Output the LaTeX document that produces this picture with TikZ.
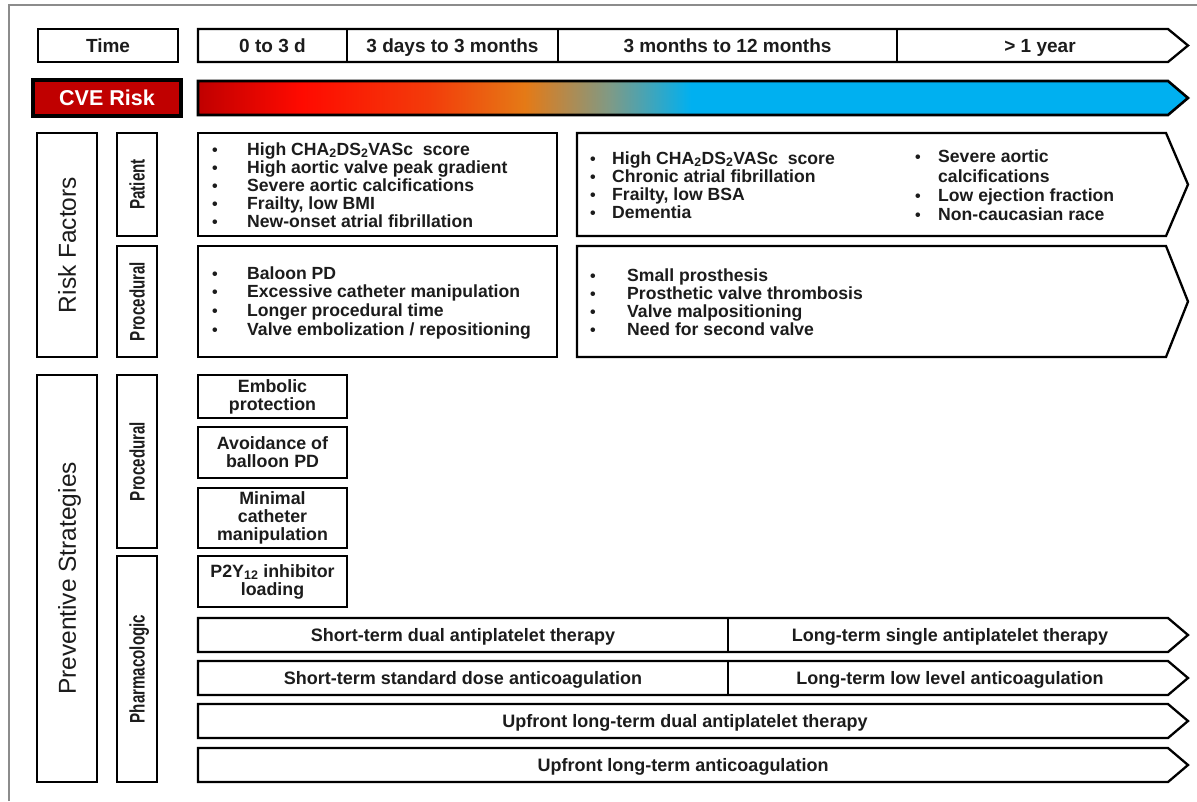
\documentclass[tikz,border=0pt]{standalone}
\usepackage{fontspec}
\setmainfont{Liberation Sans}
\usetikzlibrary{calc}

\definecolor{cvedark}{HTML}{C00000}
\definecolor{cvered}{HTML}{FF0A00}
\definecolor{cveorg1}{HTML}{F33C0A}
\definecolor{cveorange}{HTML}{E57A16}
\definecolor{cvegray}{HTML}{7F9A86}
\definecolor{cveblue}{HTML}{00B0F0}
\definecolor{framegray}{HTML}{8C8C8C}
\definecolor{ink}{HTML}{1C1C1C}

% risk gradient: dark red -> red -> orange -> blue (inner 25bp..75bp spans the bar)
\pgfdeclarehorizontalshading{cverisk}{100bp}{color(0bp)=(cvedark); color(25bp)=(cvedark); color(30.2bp)=(cvered); color(36.7bp)=(cveorg1); color(41.5bp)=(cveorange); color(45.8bp)=(cvegray); color(49.9bp)=(cveblue); color(100bp)=(cveblue)}

\newcommand\bul{{\fontsize{16}{16}\selectfont\textbullet}}

\begin{document}
\begin{tikzpicture}[x=1pt,y=-1pt,
  boxline/.style={draw=black, line width=2.3pt, line join=miter},
  framebox/.style={boxline, fill=white, inner sep=0pt},
  hdr/.style={font=\fontsize{19}{19}\selectfont\bfseries, text=ink, text height=13.6pt, text depth=0pt, inner sep=0pt},
  barlbl/.style={font=\fontsize{18}{18}\selectfont\bfseries, text=ink, text height=12.9pt, text depth=0pt, inner sep=0pt},
  listline/.style={font=\fontsize{17.6}{17.6}\selectfont\bfseries, text=ink, inner sep=0pt, anchor=base west},
  sidebig/.style={font=\fontsize{24.5}{24.5}\selectfont, rotate=90, text=ink, text height=17.5pt, text depth=0pt, inner sep=0pt},
  sidesmall/.style={font=\fontsize{21}{21}\selectfont\bfseries, rotate=90, text=ink, text height=15pt, text depth=0pt, inner sep=0pt},
  stratbox/.style={framebox, font=\fontsize{17.8}{18}\selectfont\bfseries, text=ink, align=center, minimum width=149pt},
]
\useasboundingbox (0,0) rectangle (1197,801);

% outer frame (top and left edges)
\draw[framegray, line width=2pt] (9,801) -- (9,5) -- (1197,5);

% ---------- time axis ----------
\node[framebox, hdr, minimum width=140pt, minimum height=33pt] (time) at (108,45.5) {Time};
\draw[boxline, fill=white] (198,29) -- (1168,29) -- (1188,45.5) -- (1168,62) -- (198,62) -- cycle;
\draw[boxline] (347,29) -- (347,62);
\draw[boxline] (558,29) -- (558,62);
\draw[boxline] (897,29) -- (897,62);
\node[hdr] (t1) at (272.5,45.5) {0 to 3 d};
\node[hdr] (t2) at (452.5,45.5) {3 days to 3 months};
\node[hdr] (t3) at (727.5,45.5) {3 months to 12 months};
\node[hdr] (t4) at (1040,45.5) {> 1 year};

% ---------- CVE risk ----------
\node[framebox, fill=cvedark, line width=3.2pt, minimum width=148pt, minimum height=36pt,
      font=\fontsize{21.5}{21.5}\selectfont\bfseries, text=white, text height=15.4pt, text depth=0pt] (cve) at (107,98) {CVE Risk};
\shadedraw[shading=cverisk, draw=black, line width=2.6pt] (198,81) -- (1168,81) -- (1188,98) -- (1168,115) -- (198,115) -- cycle;

% ---------- risk factors ----------
\node[framebox, minimum width=60pt, minimum height=224pt] (rf) at (67,245) {};
\node[sidebig] (rflbl) at (rf.center) {Risk Factors};
\node[framebox, minimum width=40pt, minimum height=103pt] (patbox) at (137,184.5) {};
\node[sidesmall] (patlbl) at (patbox.center) {\scalebox{0.72}[1]{Patient}};
\node[framebox, minimum width=40pt, minimum height=111pt] (procbox) at (137,301.5) {};
\node[sidesmall] (proclbl) at (procbox.center) {\scalebox{0.72}[1]{Procedural}};

% patient factors, early
\node[framebox, minimum width=359pt, minimum height=103pt] (pat1) at (377.5,184.5) {};
\foreach \txt [count=\i] in {{High CHA\textsubscript{2}DS\textsubscript{2}VASc\ \ score},{High aortic valve peak gradient},{Severe aortic calcifications},{Frailty, low BMI},{New-onset atrial fibrillation}}
  \node[listline] (pa\i) at (212,{155+18*(\i-1)}) {\makebox[35pt][l]{\bul}\txt};

% patient factors, late
\draw[boxline, fill=white] (577,133) -- (1166,133) -- (1188,184.5) -- (1166,236) -- (577,236) -- cycle;
\foreach \txt [count=\i] in {{High CHA\textsubscript{2}DS\textsubscript{2}VASc\ \ score},{Chronic atrial fibrillation},{Frailty, low BSA},{Dementia}}
  \node[listline] (pb\i) at (590,{164+18*(\i-1)}) {\makebox[22pt][l]{\bul}\txt};
\node[listline] (pc1) at (915,162) {\makebox[23pt][l]{\bul}Severe aortic};
\node[listline] (pc2) at (938,182) {calcifications};
\node[listline] (pc3) at (915,201) {\makebox[23pt][l]{\bul}Low ejection fraction};
\node[listline] (pc4) at (915,220) {\makebox[23pt][l]{\bul}Non-caucasian race};

% procedural factors, early
\node[framebox, minimum width=359pt, minimum height=111pt] (proc1) at (377.5,301.5) {};
\foreach \txt [count=\i] in {{Baloon PD},{Excessive catheter manipulation},{Longer procedural time},{Valve embolization / repositioning}}
  \node[listline] (pd\i) at (212,{279+18.7*(\i-1)}) {\makebox[35pt][l]{\bul}\txt};

% procedural factors, late
\draw[boxline, fill=white] (577,246) -- (1166,246) -- (1188,301.5) -- (1166,357) -- (577,357) -- cycle;
\foreach \txt [count=\i] in {{Small prosthesis},{Prosthetic valve thrombosis},{Valve malpositioning},{Need for second valve}}
  \node[listline] (pe\i) at (590,{281+18*(\i-1)}) {\makebox[37pt][l]{\bul}\txt};

% ---------- preventive strategies ----------
\node[framebox, minimum width=60pt, minimum height=407pt] (ps) at (67,578.5) {};
\node[sidebig] (pslbl) at (ps.center) {Preventive Strategies};
\node[framebox, minimum width=40pt, minimum height=173pt] (pprocbox) at (137,461.5) {};
\node[sidesmall] (pproclbl) at (pprocbox.center) {\scalebox{0.72}[1]{Procedural}};
\node[framebox, minimum width=40pt, minimum height=226pt] (pharmbox) at (137,669) {};
\node[sidesmall] (pharmlbl) at (pharmbox.center) {\scalebox{0.72}[1]{Pharmacologic}};

\node[stratbox, minimum height=43pt] (emb) at (272.5,396.5) {Embolic\\protection};
\node[stratbox, minimum height=51pt] (avoid) at (272.5,452.5) {Avoidance of\\balloon PD};
\node[stratbox, minimum height=60pt] (minimal) at (272.5,518) {Minimal\\catheter\\manipulation};
\node[stratbox, minimum height=51pt] (ptwoy) at (272.5,581.5) {P2Y\textsubscript{12} inhibitor\\loading};

% antiplatelet
\draw[boxline, fill=white] (198,618) -- (1168,618) -- (1188,635) -- (1168,652) -- (198,652) -- cycle;
\draw[boxline] (728,618) -- (728,652);
\node[barlbl] (dapt) at (463,635) {Short-term dual antiplatelet therapy};
\node[barlbl] (sapt) at (950,635) {Long-term single antiplatelet therapy};

% anticoagulation
\draw[boxline, fill=white] (198,661) -- (1168,661) -- (1188,678) -- (1168,695) -- (198,695) -- cycle;
\draw[boxline] (728,661) -- (728,695);
\node[barlbl] (stdac) at (463,678) {Short-term standard dose anticoagulation};
\node[barlbl] (lowac) at (950,678) {Long-term low level anticoagulation};

% upfront long-term regimens
\draw[boxline, fill=white] (198,704) -- (1168,704) -- (1188,721) -- (1168,738) -- (198,738) -- cycle;
\node[barlbl] (updapt) at (685,721) {Upfront long-term dual antiplatelet therapy};
\draw[boxline, fill=white] (198,748) -- (1168,748) -- (1188,765) -- (1168,782) -- (198,782) -- cycle;
\node[barlbl] (upac) at (683,765) {Upfront long-term anticoagulation};

\end{tikzpicture}
\end{document}
